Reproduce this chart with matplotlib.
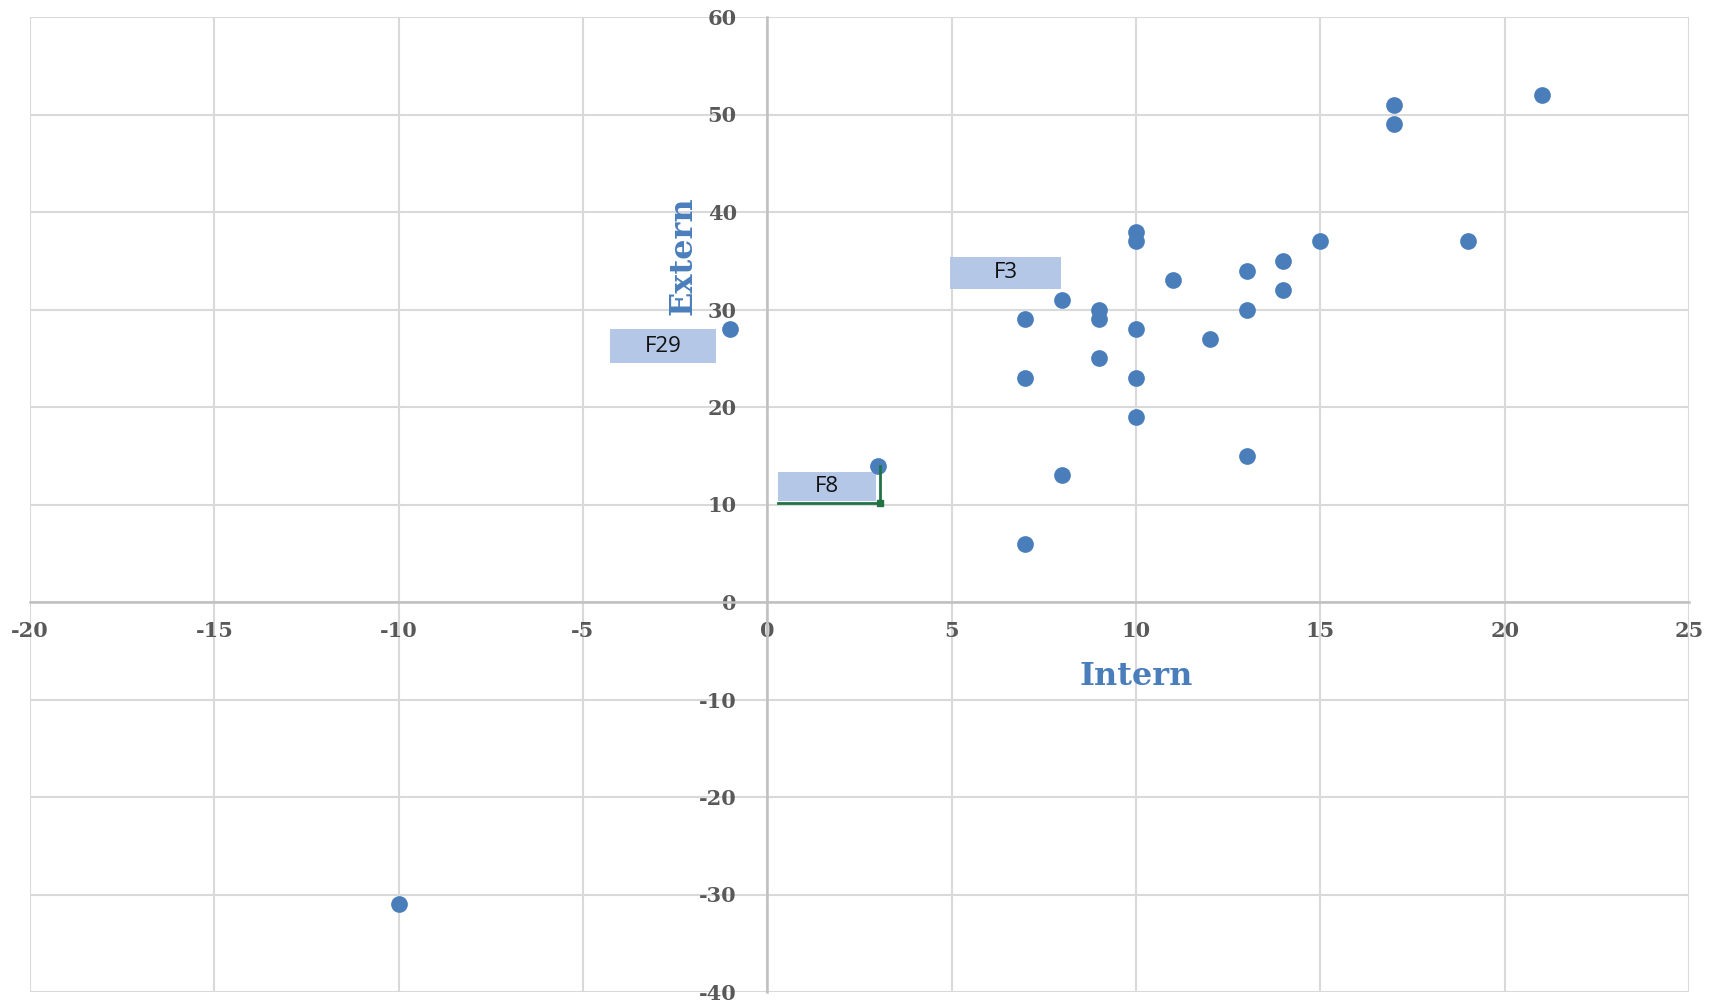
import matplotlib
matplotlib.use("Agg")
import matplotlib.pyplot as plt
from matplotlib.patches import Rectangle

plt.rcParams["axes.unicode_minus"] = False

# data
intern = [21, 17, 17, 19, 15, 10, 10, 14, 13, 11, 14, 8, 9, 13, 9, 7, 10, -1, 12, 9, 7, 10, 10, 13, 3, 8, 7, -10]
extern = [52, 51, 49, 37, 37, 38, 37, 35, 34, 33, 32, 31, 30, 30, 29, 29, 28, 28, 27, 25, 23, 23, 19, 15, 14, 13, 6, -31]

# labelled points: name, index of point
labels = [("F3", 11), ("F29", 17), ("F8", 24)]
# box placement relative to its point: dx0, dx1, dy0, dy1
box_offsets = {"F3": (-3.05, -0.03, 1.1, 4.4),
               "F29": (-3.27, -0.38, -3.5, 0.0),
               "F8": (-2.7, -0.05, -3.6, -0.7)}

xticks = list(range(-20, 26, 5))
yticks = list(range(-40, 61, 10))

blue = "#4a7ebb"
grid_c = "#d9d9d9"
axis_c = "#c0c0c0"
tick_c = "#595959"

fig = plt.figure(figsize=(17.13, 10.02), dpi=100)
ax = fig.add_axes([30 / 1713, 10 / 1002, 1659 / 1713, 975 / 1002])

ax.set_xlim(-20, 25)
ax.set_ylim(-40, 60)
ax.set_xticks(xticks)
ax.set_yticks(yticks)
ax.grid(True, color=grid_c, linewidth=1.5)
ax.set_axisbelow(True)

for s in ["top", "right"]:
    ax.spines[s].set_visible(False)
ax.spines["left"].set_position("zero")
ax.spines["bottom"].set_position("zero")
ax.spines["left"].set_color(axis_c)
ax.spines["bottom"].set_color(axis_c)
ax.spines["left"].set_linewidth(1.8)
ax.spines["bottom"].set_linewidth(1.8)
ax.tick_params(length=0, labelcolor=tick_c)
ax.tick_params(axis="y", pad=22)
ax.tick_params(axis="x", pad=14)
for lab in ax.get_xticklabels() + ax.get_yticklabels():
    lab.set_fontfamily("DejaVu Serif")
    lab.set_fontweight("bold")
    lab.set_fontsize(15)

ax.scatter(intern, extern, s=145, color=blue, zorder=3, linewidths=0)

for name, i in labels:
    px, py = intern[i], extern[i]
    dx0, dx1, dy0, dy1 = box_offsets[name]
    ax.add_patch(Rectangle((px + dx0, py + dy0), dx1 - dx0, dy1 - dy0,
                           facecolor="#b4c7e7", edgecolor="none", zorder=2))
    ax.text(px + (dx0 + dx1) / 2, py + (dy0 + dy1) / 2, name, ha="center", va="center",
            fontsize=16, fontfamily="Open Sans", color="#111111", zorder=4)
    if name == "F8":
        # leader line down to the box corner
        ax.plot([px + 0.05, px + 0.05, px + dx0], [py, py + dy0 - 0.2, py + dy0 - 0.2],
                color="#217346", linewidth=2, zorder=3)
        ax.plot([px + 0.05], [py + dy0 - 0.2], marker="s", markersize=4,
                color="#217346", zorder=3)

ax.text(10, -7.6, "Intern", ha="center", va="center", fontsize=23,
        fontfamily="DejaVu Serif", fontweight="bold", color=blue)
ax.text(-2.3, 35.5, "Extern", ha="center", va="center", rotation=90, fontsize=23,
        fontfamily="DejaVu Serif", fontweight="bold", color=blue)

fig.savefig("out.png", dpi=100)
